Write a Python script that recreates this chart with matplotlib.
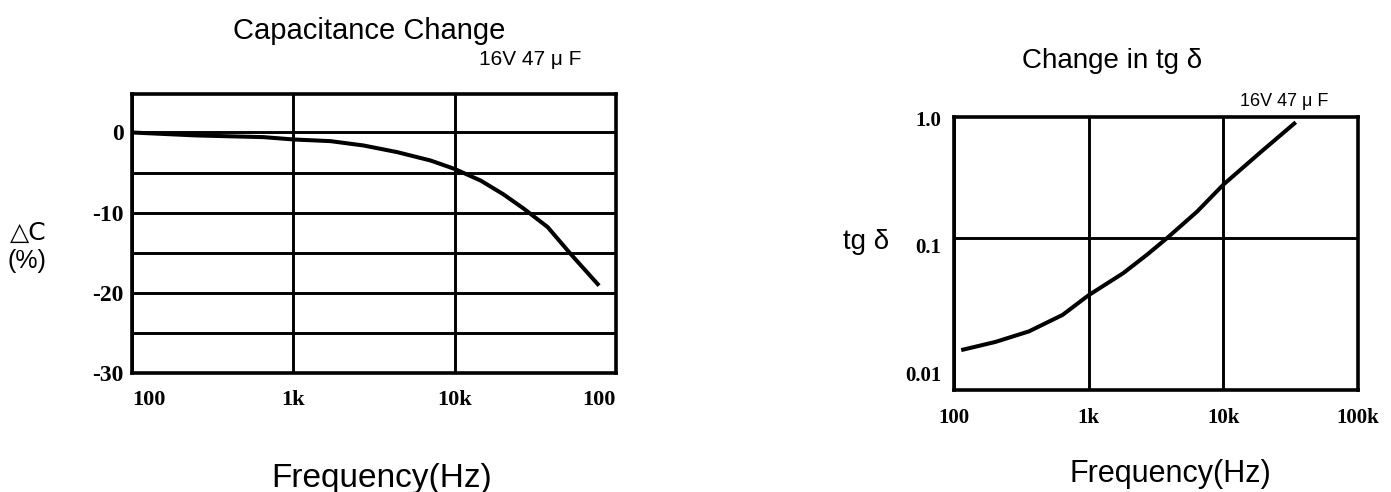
import numpy as np
from matplotlib import pyplot as plt
from matplotlib import transforms as mtrans

# Capacitance change (left chart)
frec_c = [100, 251, 654, 1000, 1700, 2720, 4400, 7100, 10000, 14500,
          20000, 26800, 37700, 52600, 78500]
delta_c = [0.0, -0.37, -0.58, -0.87, -1.08, -1.62, -2.45, -3.5, -4.55, -6.0,
           -7.7, -9.5, -11.8, -15.2, -19.1]
xticks_c = [100, 1000, 10000, 100000]
xlabels_c = ['100', '1k', '10k', '100']
yticks_c = [0, -10, -20, -30]
ygrid_c = [-5, -15, -25]

# tg delta (right chart)
frec_t = [117, 203, 360, 641, 1000, 1800, 2700, 3800, 6380, 10000, 19000, 33600]
tg_d = [0.0121, 0.0140, 0.0171, 0.0234, 0.034, 0.0515, 0.073, 0.10, 0.166,
        0.277, 0.515, 0.883]
xticks_t = [100, 1000, 10000, 100000]
xlabels_t = ['100', '1k', '10k', '100k']
yticks_t = [1.0, 0.1, 0.01]
ylabels_t = ['1.0', '0.1', '0.01']

W, H = 1391, 492
fig = plt.figure(figsize=(W / 100, H / 100), dpi=100)
serif = 'Liberation Serif'
sans = 'Liberation Sans'

def fx(px):
    return px / W

def fy(py):
    return 1 - py / H

#%% Left chart
ax1 = fig.add_axes([fx(132), fy(373), fx(616) - fx(132), fy(94) - fy(373)])
ax1.set_xscale('log')
ax1.set_xlim(100, 100000)
ax1.set_ylim(-30, 4.8)
ax1.plot(frec_c, delta_c, color='black', lw=2.9, solid_capstyle='butt')
ax1.set_xticks(xticks_c)
ax1.set_xticklabels(xlabels_c, family=serif, fontsize=16, fontweight='bold')
ax1.xaxis.set_minor_locator(plt.NullLocator())
ax1.set_yticks(yticks_c)
ax1.set_yticklabels([str(v) for v in yticks_c], family=serif, fontsize=17, fontweight='bold')
ax1.set_yticks(ygrid_c, minor=True)
ax1.grid(True, which='both', color='black', lw=2.1)
ax1.tick_params(which='both', length=0)
ax1.tick_params(axis='x', pad=12)
ax1.tick_params(axis='y', pad=6)
xl = ax1.get_xticklabels()
xl[0].set_ha('left')
xl[-1].set_ha('right')
for s in ax1.spines.values():
    s.set_linewidth(2.6)

fig.text(fx(369), fy(39), 'Capacitance Change', family=sans, fontsize=21, ha='center', va='baseline')
fig.text(fx(530), fy(65), '16V 47 μ F', family=sans, fontsize=15, ha='center', va='baseline')
fig.text(fx(28), fy(233), '△C', family=['DejaVu Sans'], fontsize=18, ha='center', va='center')
fig.text(fx(27), fy(261), '(%)', family=sans, fontsize=18, ha='center', va='center')
fig.text(fx(382), fy(487), 'Frequency(Hz)', family=sans, fontsize=24, ha='center', va='baseline')

#%% Right chart
ax2 = fig.add_axes([fx(954), fy(390), fx(1358) - fx(954), fy(117) - fy(390)])
ax2.set_xscale('log')
ax2.set_yscale('log')
ax2.set_xlim(100, 100000)
ax2.set_ylim(10 ** -2.25, 1.0)
ax2.plot(frec_t, tg_d, color='black', lw=2.9)
ax2.set_xticks(xticks_t)
ax2.set_xticklabels(xlabels_t, family=serif, fontsize=15, fontweight='bold')
ax2.xaxis.set_minor_locator(plt.NullLocator())
ax2.set_yticks(yticks_t)
ax2.set_yticklabels(ylabels_t, family=serif, fontsize=15, fontweight='bold')
ax2.yaxis.set_minor_locator(plt.NullLocator())
ax2.grid(True, axis='x', color='black', lw=2.1)
ax2.axhline(0.1, color='black', lw=2.1)
ax2.tick_params(which='both', length=0)
ax2.tick_params(axis='x', pad=13)
ax2.tick_params(axis='y', pad=9)
# in the picture the y labels sit a little under their lines
bajadas = [2, 7, 14]
for lab, b in zip(ax2.get_yticklabels(), bajadas):
    lab.set_transform(lab.get_transform() + mtrans.ScaledTranslation(0, -b / 100, fig.dpi_scale_trans))
for s in ax2.spines.values():
    s.set_linewidth(2.6)

fig.text(fx(1112), fy(68), 'Change in tg δ', family=sans, fontsize=20, ha='center', va='baseline')
fig.text(fx(1284), fy(106), '16V 47 μ F', family=sans, fontsize=13, ha='center', va='baseline')
fig.text(fx(866), fy(249), 'tg δ', family=sans, fontsize=20, ha='center', va='baseline')
fig.text(fx(1170), fy(482), 'Frequency(Hz)', family=sans, fontsize=22, ha='center', va='baseline')

fig.savefig('out.png', dpi=100, facecolor='white')
